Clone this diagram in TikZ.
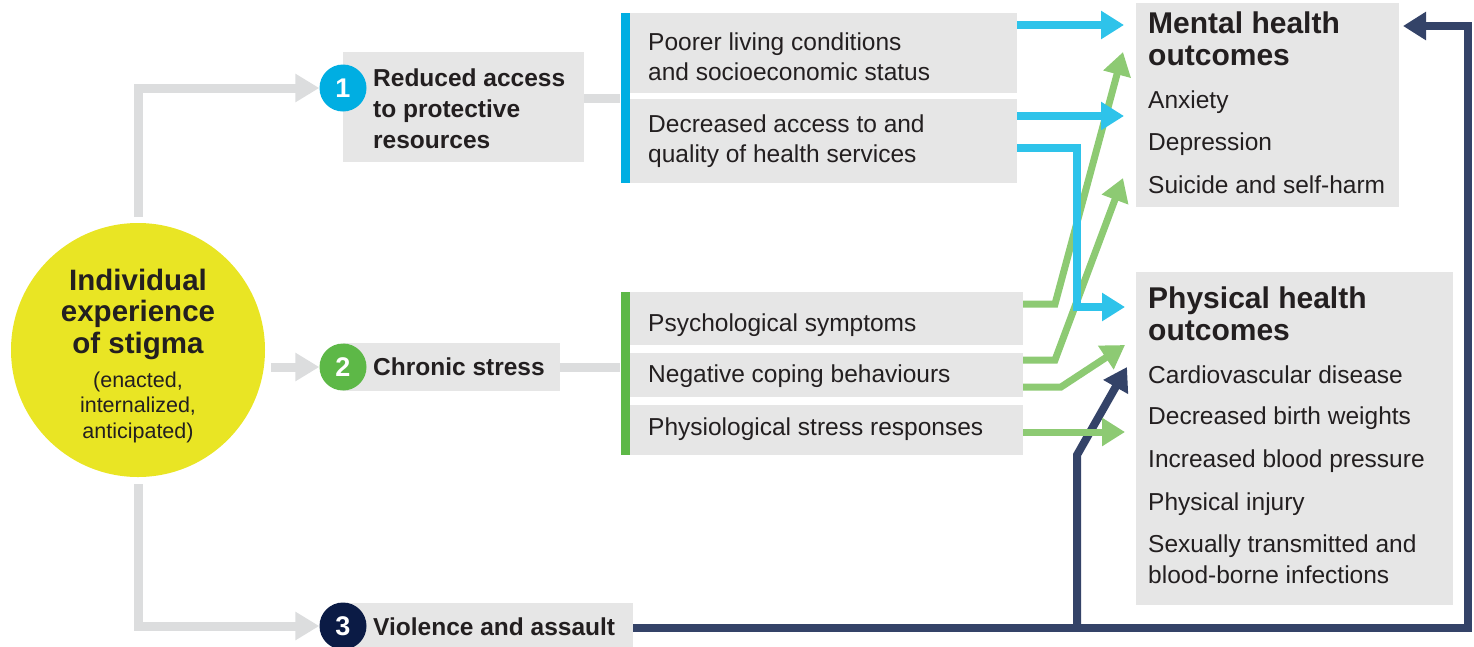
\documentclass[tikz,border=0pt]{standalone}
\usepackage{fontspec}
\setmainfont{Liberation Sans}
\usetikzlibrary{arrows.meta}

\definecolor{boxgray}{HTML}{E6E6E6}
\definecolor{linkgray}{HTML}{DCDDDE}
\definecolor{stigmayellow}{HTML}{E9E524}
\definecolor{resblue}{HTML}{00AEE2}
\definecolor{resarrow}{HTML}{2EC3EA}
\definecolor{stressgreen}{HTML}{5DB847}
\definecolor{stressarrow}{HTML}{8DCA73}
\definecolor{violnavy}{HTML}{0B1B45}
\definecolor{violline}{HTML}{344368}
\definecolor{ink}{HTML}{231F20}

\begin{document}
\begin{tikzpicture}[x=1pt, y=-1pt,
    box/.style={fill=boxgray, inner sep=0pt},
    bar/.style={inner sep=0pt, minimum width=9pt},
    numdot/.style={circle, inner sep=0pt, minimum size=47pt, text=white,
        font=\fontsize{27}{27}\selectfont\bfseries},
    lbl/.style={anchor=base west, align=left, inner sep=0pt, text=ink,
        font=\fontsize{24.5}{30}\selectfont},
    boldlbl/.style={lbl, font=\fontsize{24.5}{31}\selectfont\bfseries},
    headlbl/.style={lbl, font=\fontsize{30}{32}\selectfont\bfseries},
    link/.style={line width=9pt, linkgray, -{Triangle[length=24pt, width=27pt]}},
    res/.style={line width=8pt, resarrow, -{Triangle[length=23pt, width=27pt]}},
    cope/.style={line width=7pt, stressarrow, -{Triangle[length=23pt, width=27pt]}},
    viol/.style={line width=8pt, violline, -{Triangle[length=23pt, width=27pt]}}]

    \useasboundingbox (0,0) rectangle (1474,646);
    \clip (0,0) rectangle (1474,646);

    % boxes
    \node[box, minimum width=241pt, minimum height=110pt] (access) at (463.5,107) {};
    \node[box, minimum width=217pt, minimum height=48pt] (stress) at (451.5,367) {};
    \node[box, minimum width=290pt, minimum height=50pt] (violence) at (488,628) {};

    \node[box, minimum width=387pt, minimum height=80pt] (living) at (823.5,53) {};
    \node[box, minimum width=387pt, minimum height=84pt] (services) at (823.5,141) {};
    \node[box, minimum width=393pt, minimum height=53pt] (psych) at (826.5,318.5) {};
    \node[box, minimum width=393pt, minimum height=44pt] (negative) at (826.5,375) {};
    \node[box, minimum width=393pt, minimum height=50pt] (physio) at (826.5,430) {};

    \node[box, minimum width=263pt, minimum height=204pt] (mental) at (1267.5,105) {};
    \node[box, minimum width=317pt, minimum height=333pt] (physical) at (1294.5,438.5) {};

    \node[bar, fill=resblue, minimum height=170pt] (bar1) at (625,98) {};
    \node[bar, fill=stressgreen, minimum height=163pt] (bar2) at (625,373.5) {};

    % stigma
    \node[circle, fill=stigmayellow, minimum size=254pt, inner sep=0pt] (stigma) at (138,350) {};
    \node[anchor=base, align=center, inner sep=0pt, text=ink,
        font=\fontsize{29.5}{31.5}\selectfont\bfseries] (stigmatxt) at (138,353)
        {Individual\\experience\\of stigma};
    \node[anchor=base, align=center, inner sep=0pt, text=ink,
        font=\fontsize{21.5}{25.5}\selectfont] (forms) at (138,438)
        {(enacted,\\internalized,\\anticipated)};

    \node[numdot, fill=resblue] (one) at (343,88) {1};
    \node[numdot, fill=stressgreen] (two) at (343,367) {2};
    \node[numdot, fill=violnavy] (three) at (343,626) {3};

    \draw[link] ([yshift=6pt]stigma.north) |- (one.west);
    \draw[link] ([xshift=6pt]stigma.east |- two.west) -- (two.west);
    \draw[link] ([yshift=-7pt]stigma.south) |- (three.west);
    \draw[line width=9pt, linkgray] (access.east |- bar1.west) -- (bar1.west);
    \draw[line width=9pt, linkgray] (stress.east) -- (stress.east -| bar2.west);

    % texts
    \node[boldlbl] (accesstxt) at (373,148) {Reduced access\\to protective\\resources};
    \node[boldlbl] (stresstxt) at (373,375) {Chronic stress};
    \node[boldlbl] (violencetxt) at (373,635) {Violence and assault};

    \node[lbl] (livingtxt) at (648,80) {Poorer living conditions\\and socioeconomic status};
    \node[lbl] (servicestxt) at (648,162) {Decreased access to and\\quality of health services};
    \node[lbl] (psychtxt) at (648,331) {Psychological symptoms};
    \node[lbl] (negativetxt) at (648,382) {Negative coping behaviours};
    \node[lbl] (physiotxt) at (648,435) {Physiological stress responses};

    \node[headlbl] (mentaltxt) at (1148,65) {Mental health\\outcomes};
    \foreach \txt/\yy [count=\i] in {Anxiety/108, Depression/150, Suicide and self-harm/193}
        \node[lbl] (mitem\i) at (1148,\yy) {\txt};

    \node[headlbl] (physicaltxt) at (1148,340) {Physical health\\outcomes};
    \foreach \txt/\yy [count=\i] in {Cardiovascular disease/383, Decreased birth weights/424,
        Increased blood pressure/467, Physical injury/510,
        {Sexually transmitted and\\blood-borne infections}/583}
        \node[lbl, font=\fontsize{24.5}{31}\selectfont] (pitem\i) at (1148,\yy) {\txt};

    % connectors
    \coordinate (rim) at (1468,26);
    \coordinate (mh) at (1403,26);
    \coordinate (fork) at (1077,455);
    \coordinate (p2) at (1127,367);
    \draw[viol] (violence.east) -| (rim) -- (mh);
    \draw[viol] (fork |- violence.east) -- (fork) -- (p2);

    \coordinate (k1) at (1055,304);
    \coordinate (k2) at (1055,360);
    \coordinate (k3) at (1061,387);
    \coordinate (g1) at (1123,52);
    \coordinate (g2) at (1123,178);
    \coordinate (g3) at (1125,345);
    \coordinate (g4) at (1125,432);
    \draw[cope] (psych.east |- k1) -- (k1) -- (g1);
    \draw[cope] (negative.east |- k2) -- (k2) -- (g2);
    \draw[cope] (negative.east |- k3) -- (k3) -- (g3);
    \draw[cope] (physio.east |- g4) -- (g4);

    \coordinate (m1) at (1124,25);
    \coordinate (m2) at (1124,116);
    \coordinate (bend) at (1077,148);
    \coordinate (p1) at (1125,307);
    \draw[res] (living.east |- m1) -- (m1);
    \draw[res] (services.east |- m2) -- (m2);
    \draw[res] (services.east |- bend) -- (bend) |- (p1);
\end{tikzpicture}
\end{document}
